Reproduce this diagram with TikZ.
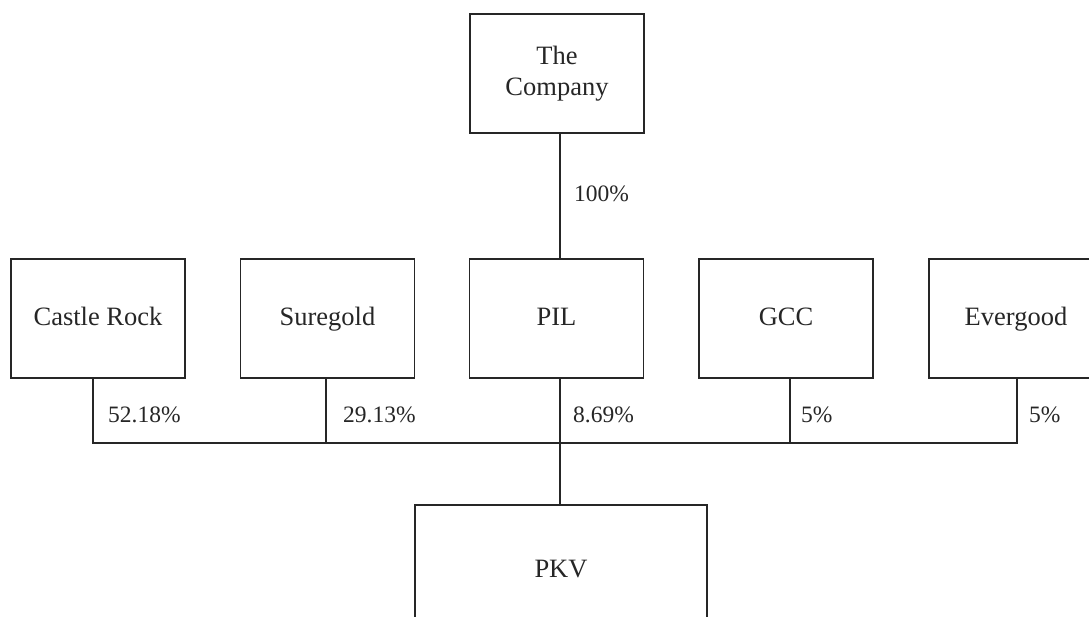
\documentclass[tikz,border=0pt]{standalone}
\usepackage{fontspec}
\setmainfont{Liberation Serif}
\begin{document}
\begin{tikzpicture}[x=1pt,y=-1pt,
  box/.style={draw=black!85, line width=1.1pt, minimum width=174pt, minimum height=119pt, inner sep=0pt, align=center, font=\fontsize{26.5}{31}\selectfont, text=black!85},
  onebox/.style={box, text height=18pt, text depth=4pt},
  conn/.style={draw=black!85, line width=1.1pt},
  pct/.style={anchor=west, inner sep=0pt, font=\fontsize{23.5}{28}\selectfont, text=black!85}]
\useasboundingbox (0,0) rectangle (1089,616);
\clip (0,0) rectangle (1089,616);
\node[box] (co) at (557,73.5) {The\\Company};
\node[onebox] (cr) at (98,318.5) {Castle Rock};
\node[onebox] (sg) at (327.5,318.5) {Suregold};
\node[onebox] (pil) at (556.5,318.5) {PIL};
\node[onebox] (gcc) at (786,318.5) {GCC};
\node[onebox] (eg) at (1016,318.5) {Evergood};
\node[onebox, minimum width=292pt, minimum height=130pt] (pkv) at (561,570) {PKV};
\coordinate (j1) at (93,443);
\coordinate (j2) at (326,443);
\coordinate (j3) at (560,443);
\coordinate (j4) at (790,443);
\coordinate (j5) at (1017,443);
\draw[conn] (j3 |- co.south) -- (j3 |- pil.north);
\draw[conn] (j1 |- cr.south) -- (j1) -- (j5) -- (j5 |- eg.south);
\draw[conn] (j2 |- sg.south) -- (j2);
\draw[conn] (j4 |- gcc.south) -- (j4);
\draw[conn] (j3 |- pil.south) -- (j3 |- pkv.north);
\node[pct] (l0) at (574,194) {100\%};
\node[pct] (l1) at (108,415) {52.18\%};
\node[pct] (l2) at (343,415) {29.13\%};
\node[pct] (l3) at (573,415) {8.69\%};
\node[pct] (l4) at (801,415) {5\%};
\node[pct] (l5) at (1029,415) {5\%};
\end{tikzpicture}
\end{document}
